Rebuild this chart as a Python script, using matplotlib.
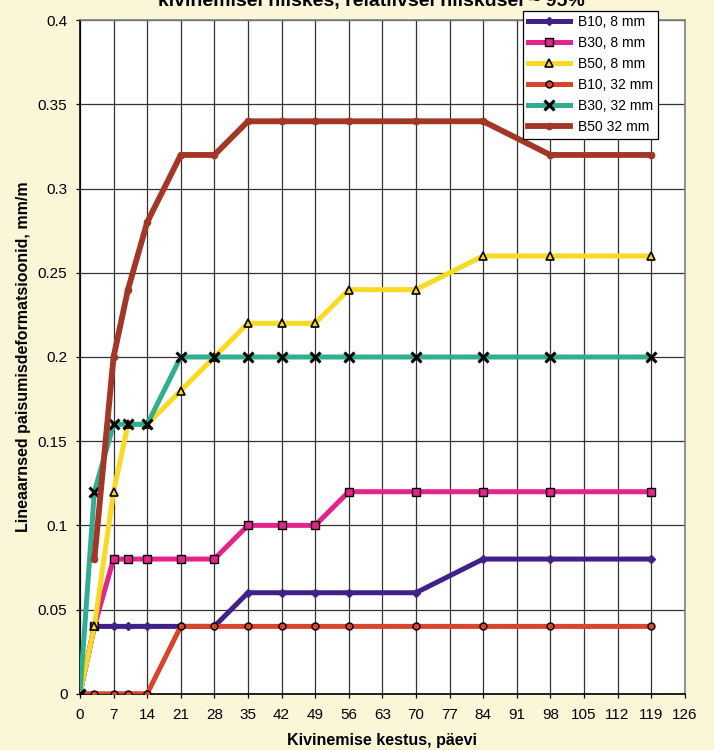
import numpy as np
import matplotlib
matplotlib.use('Agg')
import matplotlib.pyplot as plt
from matplotlib.ticker import FuncFormatter

plt.rcParams['font.family'] = ['Liberation Sans', 'DejaVu Sans']

days = [0, 3, 7, 10, 14, 21, 28, 35, 42, 49, 56, 70, 84, 98, 119]

b10_8 = [0, 0.04, 0.04, 0.04, 0.04, 0.04, 0.04, 0.06, 0.06, 0.06, 0.06, 0.06, 0.08, 0.08, 0.08]
b30_8 = [0, 0.04, 0.08, 0.08, 0.08, 0.08, 0.08, 0.10, 0.10, 0.10, 0.12, 0.12, 0.12, 0.12, 0.12]
b50_8 = [0, 0.04, 0.12, 0.16, 0.16, 0.18, 0.20, 0.22, 0.22, 0.22, 0.24, 0.24, 0.26, 0.26, 0.26]
b10_32 = [0, 0, 0, 0, 0, 0.04, 0.04, 0.04, 0.04, 0.04, 0.04, 0.04, 0.04, 0.04, 0.04]
b30_32 = [0, 0.12, 0.16, 0.16, 0.16, 0.20, 0.20, 0.20, 0.20, 0.20, 0.20, 0.20, 0.20, 0.20, 0.20]
# B50 32 mm has no reading at day 0
days_b50_32 = days[1:]
b50_32 = [0.08, 0.20, 0.24, 0.28, 0.32, 0.32, 0.34, 0.34, 0.34, 0.34, 0.34, 0.34, 0.32, 0.32]

x_ticks = list(range(0, 127, 7))
y_ticks = [0, 0.05, 0.1, 0.15, 0.2, 0.25, 0.3, 0.35, 0.4]

fig = plt.figure(figsize=(7.14, 7.5), dpi=100)
fig.patch.set_facecolor('#FBF6D8')
ax = fig.add_axes([0.112, 0.075, 0.847, 0.898])
ax.set_facecolor('white')

lw = 3.6
ax.plot(days, b10_8, color='#41208C', lw=lw, marker='D', ms=4.5,
        mfc='#41208C', mec='#41208C', label='B10, 8 mm', zorder=3)
ax.plot(days, b30_8, color='#E5238C', lw=lw, marker='s', ms=6,
        mfc='#E5238C', mec='black', mew=1, label='B30, 8 mm', zorder=3)
ax.plot(days, b50_8, color='#F8DA22', lw=lw, marker='^', ms=6,
        mfc='#F8DA22', mec='black', mew=1.2, label='B50, 8 mm', zorder=3)
ax.plot(days, b10_32, color='#D8452C', lw=lw, marker='o', ms=5,
        mfc='#D8452C', mec='black', mew=1, label='B10, 32 mm', zorder=3)
ax.plot(days, b30_32, color='#30AF90', lw=lw, marker='x', ms=6.5,
        mec='black', mew=2.2, label='B30, 32 mm', zorder=3)
ax.plot(days_b50_32, b50_32, color='#A23627', lw=4.2, marker='o', ms=4.5,
        mfc='#A23627', mec='#A23627', label='B50 32 mm', zorder=3)

ax.set_xlim(0, 126)
ax.set_ylim(0, 0.4)
ax.set_xticks(x_ticks)
ax.set_yticks(y_ticks)
ax.yaxis.set_major_formatter(FuncFormatter(lambda v, p: f'{v:g}'))
ax.grid(True, color='#333333', lw=0.9)
ax.set_axisbelow(True)
for s in ax.spines.values():
    s.set_color('#808080')
    s.set_linewidth(1.2)
ax.spines['bottom'].set_color('black')
ax.spines['left'].set_color('black')
ax.tick_params(axis='both', direction='out', length=3, width=0.9,
               labelsize=11, colors='black')
ax.tick_params(axis='x', pad=7)
ax.tick_params(axis='y', pad=6)

ax.set_xlabel('Kivinemise kestus, päevi', fontsize=11.5, fontweight='bold', labelpad=8)
ax.set_ylabel('Lineaarnsed paisumisdeformatsioonid, mm/m', fontsize=11.5,
              fontweight='bold', labelpad=5)

# title sits at the top edge and is partly clipped, as in the source image
fig.text(0.52, 0.998, 'kivinemisel niiskes, relatiivsel niiskusel ~ 95%',
         ha='center', va='center', fontsize=14, fontweight='bold')

leg = ax.legend(loc='upper left', bbox_to_anchor=(0.733, 0.986),
                bbox_transform=fig.transFigure, fontsize=10, frameon=True,
                fancybox=False, edgecolor='black', framealpha=1,
                handlelength=3.0, handletextpad=0.6, labelspacing=0.5,
                borderpad=0.35, borderaxespad=0)
leg.get_frame().set_linewidth(0.9)
leg.set_zorder(10)

fig.savefig('out.png', dpi=100, facecolor=fig.get_facecolor())
